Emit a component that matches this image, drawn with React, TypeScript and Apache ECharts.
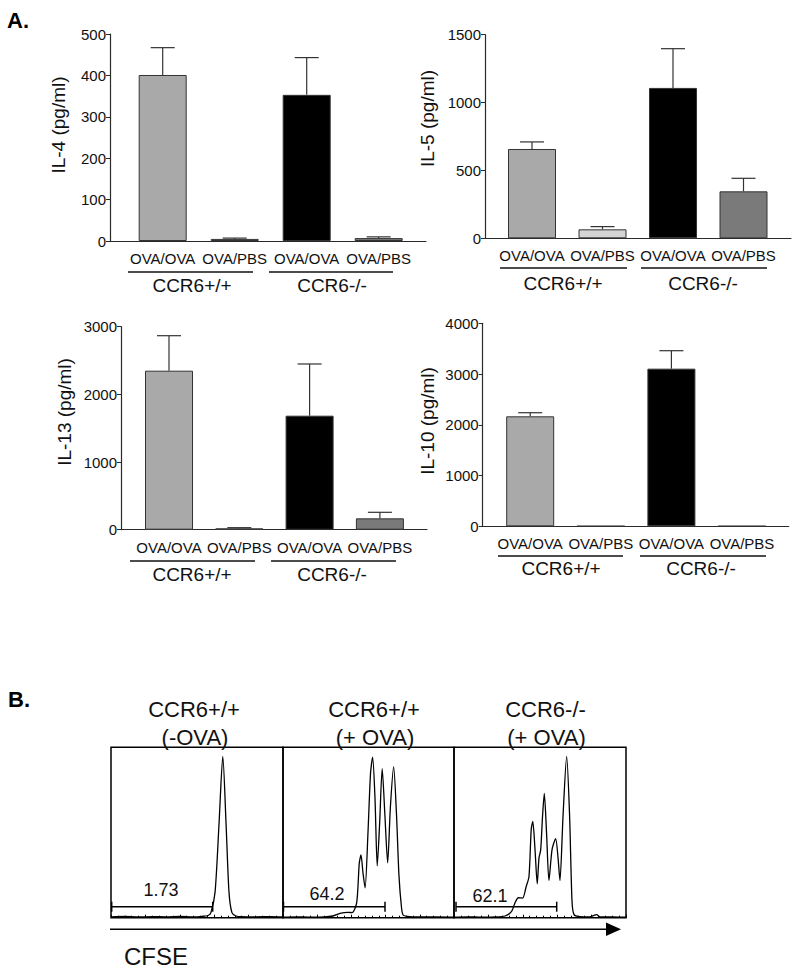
import React, { useEffect, useRef } from "react";
import * as echarts from "echarts";

const FONT = '"Liberation Sans", Arial, Helvetica, sans-serif';

// ---------- Panel A data ----------
const categories = ["OVA/OVA", "OVA/PBS", "OVA/OVA", "OVA/PBS"];
const groupLabels = ["CCR6+/+", "CCR6-/-"];
const barColors = ["#a9a9a9", "#d4d4d4", "#000000", "#7a7a7a"];

const il4Means = [401, 5, 353, 7];
const il4Err = [66, 2, 90, 3];
const il5Means = [658, 66, 1108, 346];
const il5Err = [52, 20, 289, 96];
const il13Means = [2350, 20, 1685, 168];
const il13Err = [517, 10, 764, 89];
const il10Means = [2167, 5, 3106, 5];
const il10Err = [71, 0, 354, 0];

const il4Ticks = { max: 500, interval: 100 };
const il5Ticks = { max: 1500, interval: 500 };
const il13Ticks = { max: 3000, interval: 1000 };
const il10Ticks = { max: 4000, interval: 1000 };

// ---------- Panel B data (CFSE histograms, [channel %, count %]) ----------
const histTitles = [
  ["CCR6+/+", "(-OVA)"],
  ["CCR6+/+", "(+ OVA)"],
  ["CCR6-/-", "(+ OVA)"],
];
const gateValues = ["1.73", "64.2", "62.1"];
const histNoOva: number[][] = [
  [0, 0.5], [8, 0.7], [16, 0.4], [24, 0.6], [32, 0.5], [40, 0.7], [48, 0.5], [53, 0.8],
  [56.4, 1.3], [58.1, 3], [60.5, 15], [62.8, 55], [65, 94.7], [66.9, 55], [68.6, 15],
  [70.3, 3], [72.7, 1], [76, 0.6], [84, 0.5], [92, 0.6], [100, 0.4],
];
const histWtOva: number[][] = [
  [0, 0.3], [8, 0.5], [16, 0.3], [24, 0.4], [29.2, 1], [33.3, 2.5], [38, 3.1], [40.4, 3],
  [43.1, 8.8], [44.6, 32], [45.6, 36.8], [46.8, 26], [48, 17.5], [49.7, 50], [51.2, 85],
  [52.4, 94.2], [53.8, 70], [55.1, 30.4], [56.5, 55], [58, 87.5], [59.6, 60], [61.2, 32.2],
  [62.8, 65], [64.7, 88.7], [66.4, 60], [67.8, 25], [69.3, 6], [70.3, 1.5], [74.3, 0.6],
  [82, 0.4], [90, 0.5], [100, 0.3],
];
const histKoOva: number[][] = [
  [0, 0.3], [8, 0.5], [16, 0.3], [24, 0.4], [29.7, 1], [33.5, 3.7], [35.5, 8.8], [37.4, 11.7],
  [39.9, 11.5], [41.9, 18], [43.6, 24.2], [44.9, 52], [45.8, 56.5], [47.1, 40], [48.4, 19.9],
  [49.4, 35], [50.4, 39.8], [51.5, 60], [52.5, 72.9], [53.8, 50], [55.2, 21.8], [57, 40],
  [59.1, 46.4], [60.5, 35], [61.6, 21.8], [63.4, 60], [65.5, 94.7], [67.2, 60], [68.6, 10],
  [69.8, 1.8], [73.3, 0.6], [79, 0.5], [82.9, 1.8], [84.9, 0.4], [92, 0.4], [100, 0.3],
];
const histData = [histNoOva, histWtOva, histKoOva];

// ---------- layout ----------
type BarPanel = {
  title: string; means: number[]; err: number[]; ticks: { max: number; interval: number };
  left: number; top: number; width: number; height: number; c0: number; step: number;
  titleX: number; titleY: number; lineY: number; lines: number[][]; groupY: number; groupX: number[];
};
const barPanels: BarPanel[] = [
  { title: "IL-4 (pg/ml)", means: il4Means, err: il4Err, ticks: il4Ticks,
    left: 110, top: 34, width: 316, height: 207, c0: 162.7, step: 72,
    titleX: 58, titleY: 125, lineY: 272, lines: [[128, 253], [269, 393]], groupY: 285, groupX: [192, 332] },
  { title: "IL-5 (pg/ml)", means: il5Means, err: il5Err, ticks: il5Ticks,
    left: 485, top: 34.7, width: 306, height: 203.6, c0: 532, step: 70.5,
    titleX: 427, titleY: 118.5, lineY: 268, lines: [[500, 627], [641, 767]], groupY: 283, groupX: [563, 703] },
  { title: "IL-13 (pg/ml)", means: il13Means, err: il13Err, ticks: il13Ticks,
    left: 121, top: 326.7, width: 306, height: 203, c0: 169, step: 70.3,
    titleX: 64, titleY: 412, lineY: 561, lines: [[130, 255], [271, 396]], groupY: 574, groupX: [192, 332] },
  { title: "IL-10 (pg/ml)", means: il10Means, err: il10Err, ticks: il10Ticks,
    left: 482.7, top: 323.3, width: 306, height: 203, c0: 530.2, step: 70.6,
    titleX: 427.5, titleY: 421, lineY: 556, lines: [[498, 623], [640, 766]], groupY: 568, groupX: [561, 701] },
];

const histPanels = [
  { left: 111, width: 172, titleX: 194, gate: [111.7, 212.7], gateLabelX: 161, gateLabelY: 890 },
  { left: 283, width: 171, titleX: 374, gate: [283.5, 385], gateLabelX: 327, gateLabelY: 894 },
  { left: 454, width: 172, titleX: 545.5, gate: [456, 556.7], gateLabelX: 490, gateLabelY: 896 },
];
const histTop = 747.3;
const histHeight = 170.4;

export default function App() {
  const ref = useRef<HTMLDivElement>(null);

  useEffect(() => {
    if (!ref.current) return;
    const chart = echarts.init(ref.current, undefined, { renderer: "svg" });

    const grid: any[] = [];
    const xAxis: any[] = [];
    const yAxis: any[] = [];
    const series: any[] = [];
    const graphic: any[] = [];
    const axisColor = "#2a2a2a";

    barPanels.forEach((p, i) => {
      grid.push({ left: p.left, top: p.top, width: p.width, height: p.height, containLabel: false });
      xAxis.push({
        type: "value", gridIndex: i,
        min: (p.left - p.c0) / p.step,
        max: (p.left + p.width - p.c0) / p.step,
        axisLine: { show: true, onZero: false, lineStyle: { color: axisColor, width: 1.2 } },
        axisTick: { show: false },
        splitLine: { show: false },
        axisLabel: {
          customValues: [0, 1, 2, 3],
          formatter: (v: number) => categories[Math.round(v)] ?? "",
          margin: 10, fontSize: 15, color: "#111", fontFamily: FONT,
        },
      });
      yAxis.push({
        type: "value", gridIndex: i, min: 0, max: p.ticks.max, interval: p.ticks.interval,
        axisLine: { show: true, onZero: false, lineStyle: { color: axisColor, width: 1.2 } },
        axisTick: { show: true, length: 4, lineStyle: { color: axisColor } },
        splitLine: { show: false },
        axisLabel: { margin: 4, fontSize: 15, color: "#111", fontFamily: FONT, formatter: (v: number) => String(v) },
      });
      series.push({
        type: "bar", xAxisIndex: i, yAxisIndex: i, barWidth: 48,
        data: p.means.map((m, k) => ({
          value: [k, m],
          itemStyle: { color: barColors[k], borderColor: "#333", borderWidth: 1 },
        })),
      });
      series.push({
        type: "custom", xAxisIndex: i, yAxisIndex: i, z: 3,
        data: p.means.map((m, k) => [k, m, m + p.err[k]]).filter((_d, k) => p.err[k] > 0),
        renderItem: (_params: any, api: any) => {
          const x = api.value(0);
          const a = api.coord([x, api.value(1)]);
          const b = api.coord([x, api.value(2)]);
          const st = { stroke: "#333", lineWidth: 1.2 };
          return {
            type: "group",
            children: [
              { type: "line", shape: { x1: a[0], y1: a[1], x2: b[0], y2: b[1] }, style: st },
              { type: "line", shape: { x1: b[0] - 12, y1: b[1], x2: b[0] + 12, y2: b[1] }, style: st },
            ],
          };
        },
      });
      graphic.push({
        type: "text", x: p.titleX, y: p.titleY, rotation: Math.PI / 2,
        style: { text: p.title, font: `19px ${FONT}`, fill: "#111", align: "center", verticalAlign: "middle" },
      });
      p.lines.forEach(([x1, x2], g) => {
        graphic.push({ type: "line", shape: { x1, y1: p.lineY, x2, y2: p.lineY }, style: { stroke: "#111", lineWidth: 1.3 } });
        graphic.push({
          type: "text", x: p.groupX[g], y: p.groupY,
          style: { text: groupLabels[g], font: `19px ${FONT}`, fill: "#111", align: "center", verticalAlign: "middle" },
        });
      });
    });

    histPanels.forEach((h, j) => {
      const gi = barPanels.length + j;
      grid.push({
        left: h.left, top: histTop, width: h.width, height: histHeight, show: true,
        borderColor: "#000", borderWidth: 1.5, backgroundColor: "transparent",
      });
      xAxis.push({
        type: "value", gridIndex: gi, min: 0, max: 100, interval: 20,
        axisLine: { show: false, onZero: false },
        axisTick: { show: true, inside: true, length: 3, lineStyle: { color: "#000" } },
        minorTick: { show: true, splitNumber: 5, length: 2, lineStyle: { color: "#000" } },
        axisLabel: { show: false }, splitLine: { show: false },
      });
      yAxis.push({ type: "value", gridIndex: gi, min: 0, max: 100, show: false, splitLine: { show: false } });
      series.push({
        type: "line", xAxisIndex: gi, yAxisIndex: gi, data: histData[j], symbol: "none",
        smooth: 0.25, lineStyle: { color: "#000", width: 1.3 },
      });
      graphic.push({
        type: "text", x: h.titleX, y: 709,
        style: { text: histTitles[j][0], font: `22px ${FONT}`, fill: "#111", align: "center", verticalAlign: "middle" },
      });
      graphic.push({
        type: "text", x: h.titleX + 1, y: 737,
        style: { text: histTitles[j][1], font: `22px ${FONT}`, fill: "#111", align: "center", verticalAlign: "middle" },
      });
      const gy = 906.7;
      const gs = { stroke: "#000", lineWidth: 1.5 };
      graphic.push({ type: "line", shape: { x1: h.gate[0], y1: gy, x2: h.gate[1], y2: gy }, style: gs });
      graphic.push({ type: "line", shape: { x1: h.gate[0], y1: gy - 5, x2: h.gate[0], y2: gy + 5 }, style: gs });
      graphic.push({ type: "line", shape: { x1: h.gate[1], y1: gy - 5, x2: h.gate[1], y2: gy + 5 }, style: gs });
      graphic.push({
        type: "text", x: h.gateLabelX, y: h.gateLabelY,
        style: { text: gateValues[j], font: `18px ${FONT}`, fill: "#111", align: "center", verticalAlign: "middle" },
      });
    });

    // panel letters and CFSE arrow
    graphic.push({ type: "text", x: 7, y: 20, style: { text: "A.", font: `bold 22px ${FONT}`, fill: "#000", verticalAlign: "middle" } });
    graphic.push({ type: "text", x: 8, y: 699, style: { text: "B.", font: `bold 22px ${FONT}`, fill: "#000", verticalAlign: "middle" } });
    graphic.push({ type: "line", shape: { x1: 110, y1: 929.3, x2: 608, y2: 929.3 }, style: { stroke: "#000", lineWidth: 1.5 } });
    graphic.push({ type: "polygon", shape: { points: [[606, 922.5], [621, 929.3], [606, 936]] }, style: { fill: "#000" } });
    graphic.push({
      type: "text", x: 156, y: 956,
      style: { text: "CFSE", font: `24px ${FONT}`, fill: "#111", align: "center", verticalAlign: "middle" },
    });

    chart.setOption({
      animation: false,
      backgroundColor: "#fff",
      textStyle: { fontFamily: FONT },
      grid, xAxis, yAxis, series, graphic,
    });
    return () => chart.dispose();
  }, []);

  return <div ref={ref} style={{ position: "absolute", left: 0, top: 0, width: 799, height: 974 }} />;
}
